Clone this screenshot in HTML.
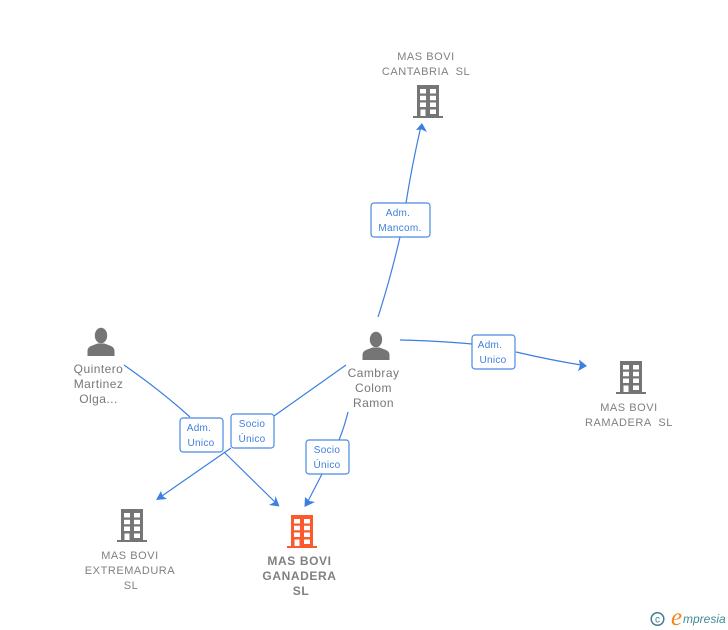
<!DOCTYPE html>
<html>
<head>
<meta charset="utf-8">
<style>
html,body{margin:0;padding:0;background:#fff;width:728px;height:630px;overflow:hidden}
svg{display:block}
text{font-family:"Liberation Sans",sans-serif}
.n{font-size:11px;fill:#808080;text-anchor:middle;letter-spacing:.55px;white-space:pre}
.p{font-size:12px;fill:#777;text-anchor:middle;letter-spacing:.45px}
.b{font-size:12px;fill:#808080;text-anchor:middle;font-weight:bold;letter-spacing:.6px}
.e{font-size:10px;fill:#3f7fdc;text-anchor:middle;letter-spacing:.3px}
.box{fill:#fff;stroke:#4a8ae0;stroke-width:1.2}
.l{fill:none;stroke:#3b7fdf;stroke-width:1.2}
.a{fill:#3b7fdf}
</style>
</head>
<body>
<svg width="728" height="630" viewBox="0 0 728 630" xmlns="http://www.w3.org/2000/svg">
<defs>
<g id="bld">
<path fill-rule="evenodd" d="M0 0H22V31H26V33H-4V31H0ZM3 4V8.500H9V4ZM13 4V8.500H19V4ZM3 10.800V15.300H9V10.800ZM13 10.800V15.300H19V10.800ZM3 17.500V22H9V17.500ZM13 17.500V22H19V17.500ZM3.500 24.500V31H8.500V24.500ZM13 24.500V29H19V24.500Z"/>
</g>
<g id="per">
<ellipse cx="0" cy="7.500" rx="6.200" ry="7.800"/>
<path d="M-13.500 28V23C-13.500 19.500-11 18.200-8 17.200L-3.500 15.500H3.500L8 17.200C11 18.200 13.500 19.500 13.500 23V28Z"/>
</g>
</defs>

<path class="l" d="M378 317Q390 280 400 237"/>
<path class="l" d="M406 203Q412 165 421 126"/>
<path class="a" d="M422 123L427 132L421.500 129.500L416 130Z"/>
<path class="l" d="M400 340Q440 341 472 344"/>
<path class="l" d="M516 352Q550 360 584 365.500"/>
<path class="a" d="M587 366L578 371L580 365.500L579 359.500Z"/>
<path class="l" d="M348 412Q344 428 339 440"/>
<path class="l" d="M322 474L306 505"/>
<path class="a" d="M304.500 507L305 497L309.500 501L315 502Z"/>
<path class="l" d="M124 365Q160 390 190 417"/>
<path class="l" d="M346 365L274 416"/>
<path class="l" d="M231 448L159 498"/>
<path class="a" d="M156 500L161 491L162.500 496L167 499Z"/>
<path class="l" d="M224 452L277 504"/>
<path class="a" d="M279.500 506.500L269 505L274.500 502L275.500 496Z"/>

<use href="#bld" x="417" y="85" fill="#757575"/>
<use href="#bld" x="620" y="361" fill="#757575"/>
<use href="#bld" x="121" y="509" fill="#757575"/>
<use href="#bld" x="291" y="515" fill="#fb5a2c"/>
<use href="#per" x="376" y="332" fill="#757575"/>
<use href="#per" x="101" y="328" fill="#757575"/>

<text class="n" x="426" y="60">MAS BOVI</text>
<text class="n" x="426" y="75">CANTABRIA  SL</text>
<text class="n" x="629" y="411">MAS BOVI</text>
<text class="n" x="629" y="426">RAMADERA  SL</text>
<text class="n" x="130" y="559">MAS BOVI</text>
<text class="n" x="130" y="574">EXTREMADURA</text>
<text class="n" x="131" y="589">SL</text>
<text class="b" x="299.500" y="565">MAS BOVI</text>
<text class="b" x="299.500" y="580">GANADERA</text>
<text class="b" x="301" y="595">SL</text>
<text class="p" x="373.500" y="377">Cambray</text>
<text class="p" x="373.500" y="392">Colom</text>
<text class="p" x="373.500" y="407">Ramon</text>
<text class="p" x="98.500" y="373">Quintero</text>
<text class="p" x="98.500" y="388">Martinez</text>
<text class="p" x="98.500" y="403">Olga...</text>

<rect class="box" x="371" y="203" width="59" height="34" rx="3"/>
<text class="e" x="398" y="216">Adm.</text>
<text class="e" x="400" y="231">Mancom.</text>
<rect class="box" x="472" y="335" width="43" height="34" rx="3"/>
<text class="e" x="490" y="348">Adm.</text>
<text class="e" x="493" y="363">Unico</text>
<rect class="box" x="180" y="418" width="43" height="34" rx="3"/>
<text class="e" x="199" y="431">Adm.</text>
<text class="e" x="201" y="446">Unico</text>
<rect class="box" x="231" y="414" width="43" height="34" rx="3"/>
<text class="e" x="252" y="427">Socio</text>
<text class="e" x="252" y="442">Único</text>
<rect class="box" x="306" y="440" width="43" height="34" rx="3"/>
<text class="e" x="327" y="453">Socio</text>
<text class="e" x="327" y="468">Único</text>

<circle cx="657.500" cy="619" r="6.300" fill="none" stroke="#3f7f8f" stroke-width="1.500"/>
<text x="657.500" y="622.500" font-size="10" fill="#3f7f8f" text-anchor="middle">c</text>
<text x="671" y="625" font-size="25" fill="#f08a1d" style="font-family:'Liberation Serif',serif;font-style:italic">e</text>
<text x="683" y="623" font-size="12" fill="#3f8a9a" style="font-style:italic">mpresia</text>
</svg>
</body>
</html>
